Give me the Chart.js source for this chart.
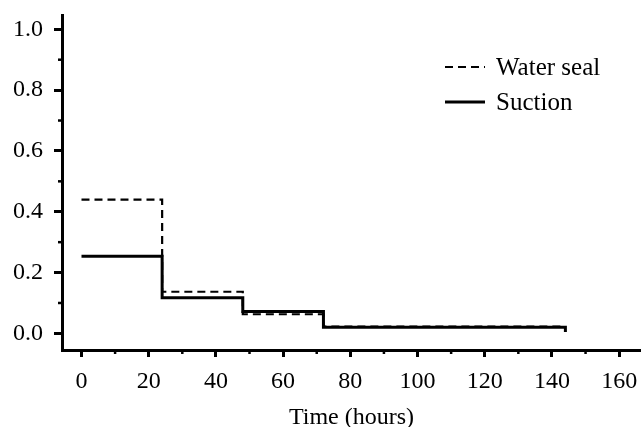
<!DOCTYPE html>
<html>
<head>
<meta charset="utf-8">
<script src="https://cdn.jsdelivr.net/npm/chart.js@4/dist/chart.umd.min.js"></script>
<style>
html,body{margin:0;padding:0;background:#fff;}
#wrap{width:641px;height:427px;}
</style>
</head>
<body>
<div id="wrap"><canvas id="survChart"></canvas></div>
<script>
// step points (hours) and proportion values
let hours = [0, 24, 48, 72, 144];
let waterSeal = [0.44, 0.137, 0.063, 0.022, 0.022];
let suctionHours = [0, 24, 48, 72, 144, 144];
let suction = [0.254, 0.117, 0.072, 0.02, 0.02, 0.005];
let xTicks = [0, 20, 40, 60, 80, 100, 120, 140, 160];
let yTicks = [0.0, 0.2, 0.4, 0.6, 0.8, 1.0];
let seriesNames = ["Water seal", "Suction"];

let serif = "'Liberation Serif', 'Times New Roman', serif";

function toPoints(xs, ys){
return xs.map((x,i)=>({x:x, y:ys[i]}));
}

// minor ticks + legend drawn on top, positioned through the scales
let extras = {
id:"extras",
afterDraw(chart){
let ctx = chart.ctx;
let xs = chart.scales.x, ys = chart.scales.y;
let area = chart.chartArea;
ctx.save();
ctx.strokeStyle = "#000";
ctx.lineWidth = 2.5;
for(let v=10; v<166; v+=20){
let px = xs.getPixelForValue(v);
ctx.beginPath(); ctx.moveTo(px, area.bottom); ctx.lineTo(px, area.bottom+4); ctx.stroke();
}
for(let v=0.1; v<1.05; v+=0.2){
let py = ys.getPixelForValue(v);
ctx.beginPath(); ctx.moveTo(area.left, py); ctx.lineTo(area.left-4, py); ctx.stroke();
}
// legend
ctx.font = "25px " + serif;
ctx.fillStyle = "#000";
ctx.textBaseline = "middle";
let lx = 445, ly = [67, 102];
chart.data.datasets.forEach((ds,i)=>{
ctx.lineWidth = ds.borderWidth;
ctx.setLineDash(ds.borderDash || []);
ctx.beginPath(); ctx.moveTo(lx, ly[i]); ctx.lineTo(lx+40, ly[i]); ctx.stroke();
ctx.setLineDash([]);
ctx.fillText(ds.label, lx+51, ly[i]+1);
});
ctx.restore();
}
};

new Chart(document.getElementById("survChart"), {
type:"line",
data:{
datasets:[{
label:seriesNames[0],
data:toPoints(hours, waterSeal),
stepped:"before",
borderColor:"#000",
borderWidth:2.2,
borderDash:[8,5],
pointRadius:0,
fill:false
},{
label:seriesNames[1],
data:toPoints(suctionHours, suction),
stepped:"before",
borderColor:"#000",
borderWidth:3,
pointRadius:0,
fill:false
}]
},
options:{
responsive:true,
maintainAspectRatio:false,
animation:false,
layout:{padding:{top:15, right:0, left:0, bottom:0}},
plugins:{legend:{display:false}, tooltip:{enabled:false}},
scales:{
x:{
type:"linear",
min:-5.8,
max:166.5,
afterBuildTicks(scale){ scale.ticks = xTicks.map(v=>({value:v})); },
afterFit(scale){ scale.height = 77; scale.paddingLeft = 0; scale.paddingRight = 0; },
ticks:{color:"#000", font:{family:serif, size:24}, padding:10, maxRotation:0,
callback:(v)=>String(v)},
grid:{drawOnChartArea:false, tickLength:7, tickWidth:3, tickColor:"#000"},
border:{color:"#000", width:3},
title:{display:true, text:"Time (hours)", color:"#000",
font:{family:serif, size:24, lineHeight:1}, padding:{top:0, bottom:-3}}
},
y:{
min:-0.0546,
max:1.047,
afterBuildTicks(scale){ scale.ticks = yTicks.map(v=>({value:v})); },
afterFit(scale){ scale.width = 62; scale.paddingTop = 0; scale.paddingBottom = 0; },
ticks:{color:"#000", font:{family:serif, size:24}, padding:11,
callback:(v)=>v.toFixed(1)},
grid:{drawOnChartArea:false, tickLength:8, tickWidth:3, tickColor:"#000"},
border:{color:"#000", width:3}
}
}
},
plugins:[extras]
});
</script>
</body>
</html>
